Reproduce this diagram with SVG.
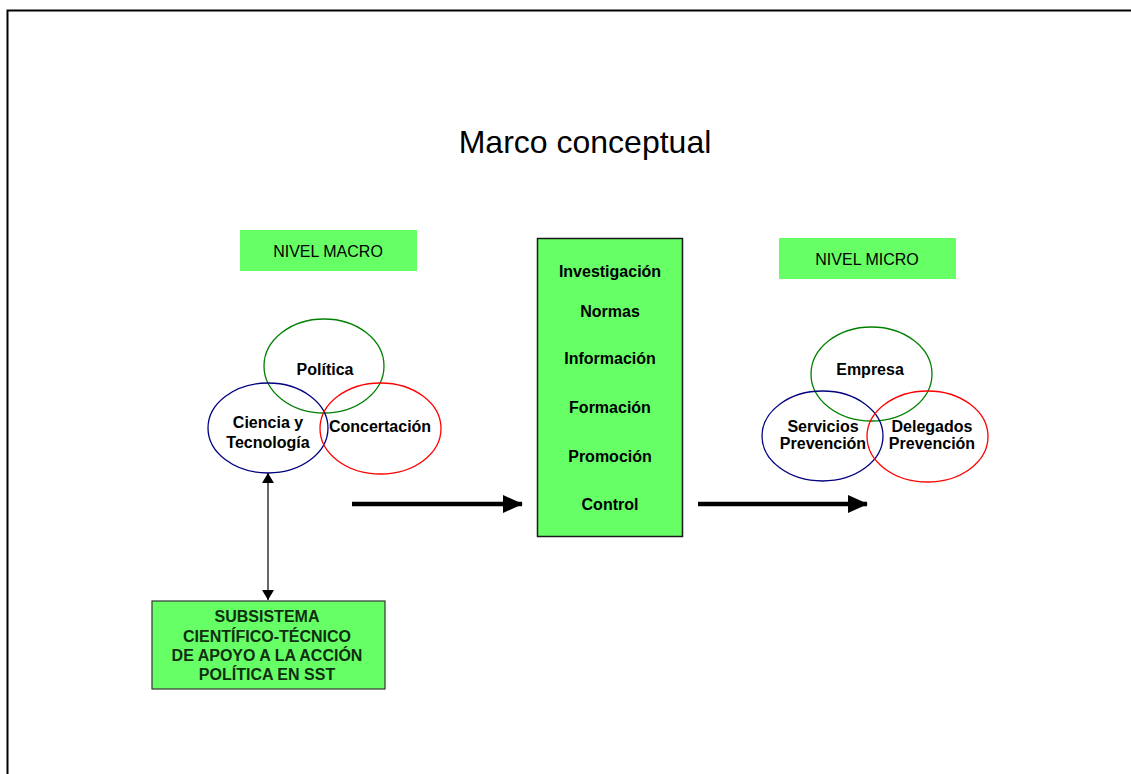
<svg xmlns="http://www.w3.org/2000/svg" width="1131" height="774" viewBox="0 0 1131 774">
<defs>
<style>
text{font-family:"Liberation Sans",Arial,sans-serif;text-anchor:middle;fill:#000}
.b{font-weight:bold;font-size:16px}
.lvl{font-size:16px}
.fill{fill:#66FF66}
.ell{fill:none;stroke-width:1.3}
.g{stroke:#008000}.bl{stroke:#000080}.r{stroke:#FF0000}
.sub{fill:#0f2f0f}
</style>
<marker id="big" viewBox="0 0 20 18" refX="19" refY="9" markerWidth="20" markerHeight="18" markerUnits="userSpaceOnUse" orient="auto"><path d="M0,0L20,9L0,18Z" fill="#000"/></marker>
<marker id="sm" viewBox="0 0 10 12" refX="10" refY="6" markerWidth="10" markerHeight="12" markerUnits="userSpaceOnUse" orient="auto-start-reverse"><path d="M0,0L10,6L0,12Z" fill="#000"/></marker>
</defs>
<rect width="1131" height="774" fill="#fff"/>
<path d="M7.5,774V10.5H1131" fill="none" stroke="#000" stroke-width="2"/>
<text x="585" y="153" style="font-size:32px">Marco conceptual</text>

<g id="nivel-macro"><rect class="fill" x="240" y="230" width="177" height="41"/><text class="lvl" x="328" y="257">NIVEL MACRO</text></g>
<g id="nivel-micro"><rect class="fill" x="779" y="238" width="177" height="41"/><text class="lvl" x="867" y="265">NIVEL MICRO</text></g>

<g id="politica"><ellipse class="ell g" cx="324" cy="366" rx="60" ry="47"/><text class="b" x="325" y="375">Política</text></g>
<g id="ciencia"><ellipse class="ell bl" cx="268" cy="428" rx="60" ry="45"/><text class="b" x="268" y="428">Ciencia y</text><text class="b" x="268" y="448">Tecnología</text></g>
<g id="concertacion"><ellipse class="ell r" cx="380.5" cy="428.5" rx="60.5" ry="45.5"/><text class="b" x="380" y="432">Concertación</text></g>

<g id="empresa"><ellipse class="ell g" cx="871.5" cy="374" rx="60.5" ry="47"/><text class="b" x="870" y="375">Empresa</text></g>
<g id="servicios"><ellipse class="ell bl" cx="822.5" cy="436" rx="60.5" ry="45"/><text class="b" x="823" y="432">Servicios</text><text class="b" x="823" y="449">Prevención</text></g>
<g id="delegados"><ellipse class="ell r" cx="927.5" cy="436.5" rx="60.5" ry="45.5"/><text class="b" x="932" y="432">Delegados</text><text class="b" x="932" y="449">Prevención</text></g>

<g id="instrumentos"><rect class="fill" x="537.5" y="238.5" width="145" height="298" stroke="#1a1a1a" stroke-width="1.5"/>
<text class="b" x="610" y="277">Investigación</text>
<text class="b" x="610" y="317">Normas</text>
<text class="b" x="610" y="364">Información</text>
<text class="b" x="610" y="413">Formación</text>
<text class="b" x="610" y="462">Promoción</text>
<text class="b" x="610" y="510">Control</text></g>

<g id="subsistema"><rect class="fill" x="152" y="601" width="233" height="88" stroke="#333" stroke-width="1.2"/>
<text class="b sub" x="267" y="622">SUBSISTEMA</text>
<text class="b sub" x="267" y="642">CIENTÍFICO-TÉCNICO</text>
<text class="b sub" x="267" y="661">DE APOYO A LA ACCIÓN</text>
<text class="b sub" x="267" y="680">POLÍTICA EN SST</text></g>

<g id="connectors" stroke="#000" fill="none">
<line x1="352" y1="504" x2="522" y2="504" stroke-width="4.5" marker-end="url(#big)"/>
<line x1="698" y1="504" x2="867" y2="504" stroke-width="4.5" marker-end="url(#big)"/>
<line x1="268" y1="473" x2="268" y2="600" stroke-width="1.2" marker-start="url(#sm)" marker-end="url(#sm)"/>
</g>
</svg>
